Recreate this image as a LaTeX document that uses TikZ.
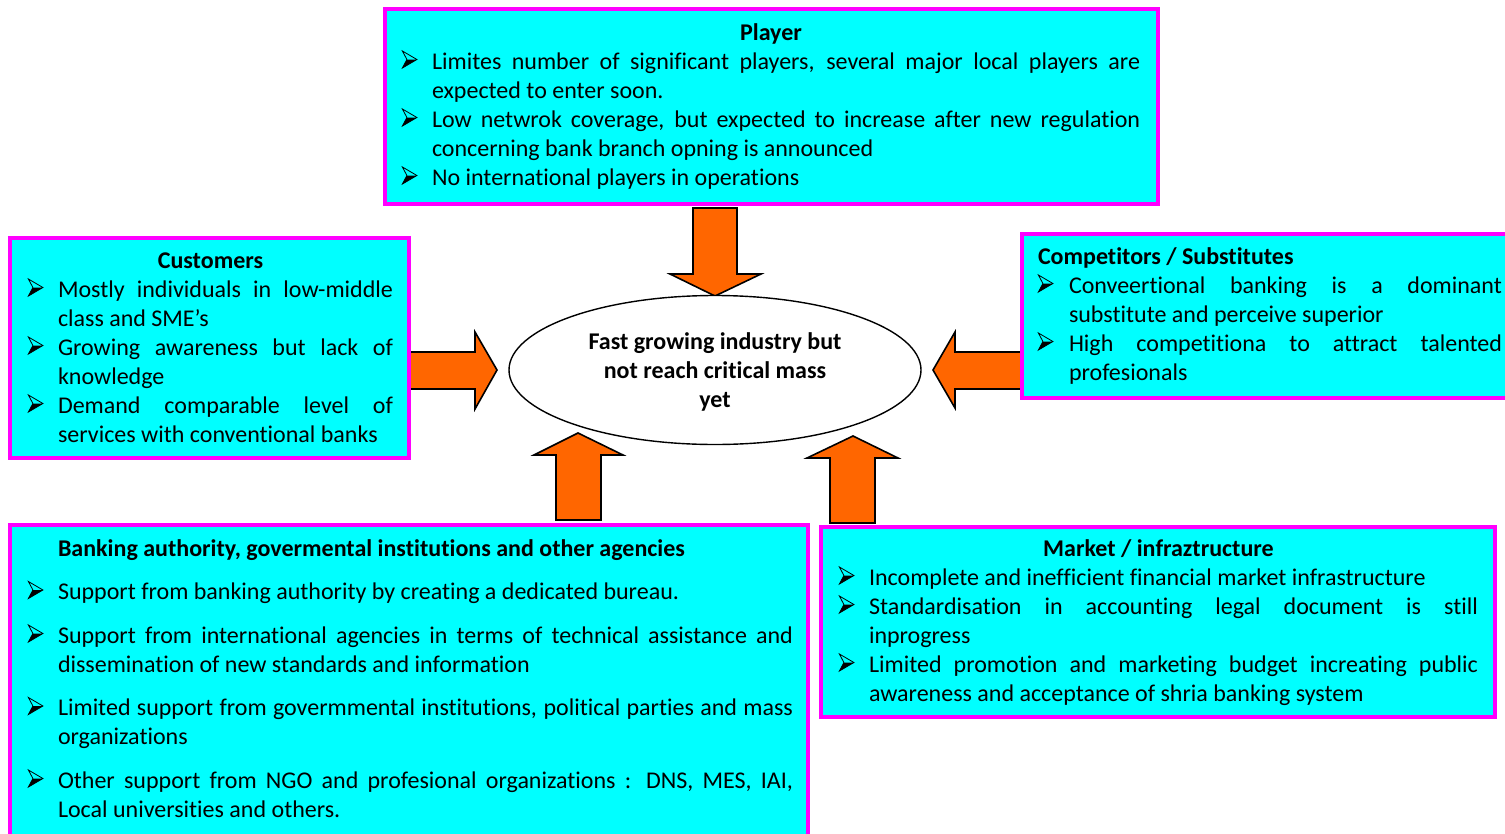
\documentclass[tikz,border=0pt]{standalone}
\usepackage{fontspec}
\setmainfont{Carlito}[Ligatures=NoCommon]
\usetikzlibrary{shapes.geometric}
\definecolor{boxcyan}{HTML}{00FFFF}
\definecolor{boxmag}{HTML}{FF00FF}
\definecolor{arrorange}{HTML}{FF6600}
\newlength\itind
\newcommand\bul{\tikz[baseline=0pt,x=1pt,y=1pt,line width=0.8pt,line join=miter]{%
  \fill[black] (5,9.5) -- (15,9.5) -- (0.5,1) -- cycle;
  \draw[black] (0.5,18) -- (15,9.5) -- (0.5,1) -- (5,9.5) -- cycle;}}
\newcommand\itm[1]{\par\noindent\hangindent=\itind\hangafter=1\makebox[\itind][l]{\bul}#1\par}
\newcommand\txtsetup{\tolerance=10000\hbadness=10000\hyphenpenalty=10000\exhyphenpenalty=10000\parindent=0pt}
\begin{document}
\begin{tikzpicture}[x=1pt,y=-1pt]
\tikzset{
  panel/.style={draw=boxmag, line width=4pt, fill=boxcyan, anchor=north west, inner sep=0pt, outer sep=0pt},
  blockarrow/.style={draw=black, line width=1.6pt, fill=arrorange, line join=miter},
  txt/.style={anchor=base west, inner sep=0pt, outer sep=0pt, align=justify, font=\fontsize{24}{29}\selectfont},
}
\useasboundingbox (0,0) rectangle (1505,833);
\clip (0,0) rectangle (1505,833);
\fill[white] (0,0) rectangle (1505,833);

% block arrows
\draw[blockarrow] (693,208) -- (737,208) -- (737,274) -- (761,274) -- (715,296) -- (670,274) -- (693,274) -- cycle;
\draw[blockarrow] (409,352) -- (475,352) -- (475,332) -- (497,370) -- (475,409) -- (475,389) -- (409,389) -- cycle;
\draw[blockarrow] (1021,352) -- (955,352) -- (955,332) -- (933,370) -- (955,408) -- (955,389) -- (1021,389) -- cycle;
\draw[blockarrow] (556,520) -- (601,520) -- (601,455) -- (623,455) -- (578,433) -- (534,455) -- (556,455) -- cycle;
\draw[blockarrow] (830,523) -- (875,523) -- (875,458) -- (898,458) -- (853,436) -- (807,458) -- (830,458) -- cycle;

% panels
\node[panel, minimum width=773pt, minimum height=195pt] (player) at (385,9) {};
\node[panel, minimum width=399pt, minimum height=220pt] (customers) at (10,238) {};
\node[panel, minimum width=500pt, minimum height=164pt] (competitors) at (1022,234) {};
\node[panel, minimum width=798pt, minimum height=330pt] (banking) at (10,525) {};
\node[panel, minimum width=674pt, minimum height=190pt] (market) at (821,527) {};

% centre ellipse
\node[ellipse, draw, line width=1.4pt, fill=white, minimum width=412pt, minimum height=149pt, inner sep=0pt] (centre) at (715,370) {};
\node[align=center, inner sep=0pt, font=\bfseries\fontsize{24}{29}\selectfont] (centretxt) at (715,372)
  {Fast growing industry but\\not reach critical mass\\yet};

% texts
\node[txt, text width=738pt] (playertxt) at (402,40) {\txtsetup\setlength\itind{30pt}%
  {\centering\bfseries Player\par}%
  \itm{Limites number of significant players, several major local players are \linebreak expected to enter soon.}%
  \itm{Low netwrok coverage, but expected to increase after new regulation \linebreak concerning bank branch opning is announced}%
  \itm{No international players in operations}};

\node[txt, text width=365pt] (customerstxt) at (28,268) {\txtsetup\setlength\itind{30pt}%
  {\centering\bfseries Customers\par}%
  \itm{Mostly individuals in low-middle \linebreak class and SME’s}%
  \itm{Growing awareness but lack of \linebreak knowledge}%
  \itm{Demand comparable level of \linebreak services with conventional banks}};

\node[txt, text width=464pt] (competitorstxt) at (1038,264) {\txtsetup\setlength\itind{31pt}%
  {\bfseries Competitors / Substitutes\par}%
  \itm{Conveertional banking is a dominant \linebreak substitute and perceive superior}%
  \itm{High competitiona to attract talented \linebreak profesionals}};

\node[txt, text width=765pt] (bankingtxt) at (28,556) {\txtsetup\setlength\itind{30pt}\setlength\parskip{14.5pt}%
  \hspace*{30pt}{\bfseries Banking authority, govermental institutions and other agencies}\par
  \itm{Support from banking authority by creating a dedicated bureau.}%
  \itm{Support from international agencies in terms of technical assistance and \linebreak dissemination of new standards and information}%
  \itm{Limited support from govermmental institutions, political parties and mass \linebreak organizations}%
  \itm{Other support from NGO and profesional organizations : DNS, MES, IAI, \linebreak Local universities and others.}};

\node[txt, text width=639pt] (markettxt) at (839,556) {\txtsetup\setlength\itind{30pt}%
  {\centering\bfseries Market / infraztructure\par}%
  \itm{Incomplete and inefficient financial market infrastructure}%
  \itm{Standardisation in accounting legal document is still \linebreak inprogress}%
  \itm{Limited promotion and marketing budget increating public \linebreak awareness and acceptance of shria banking system}};
\end{tikzpicture}
\end{document}
